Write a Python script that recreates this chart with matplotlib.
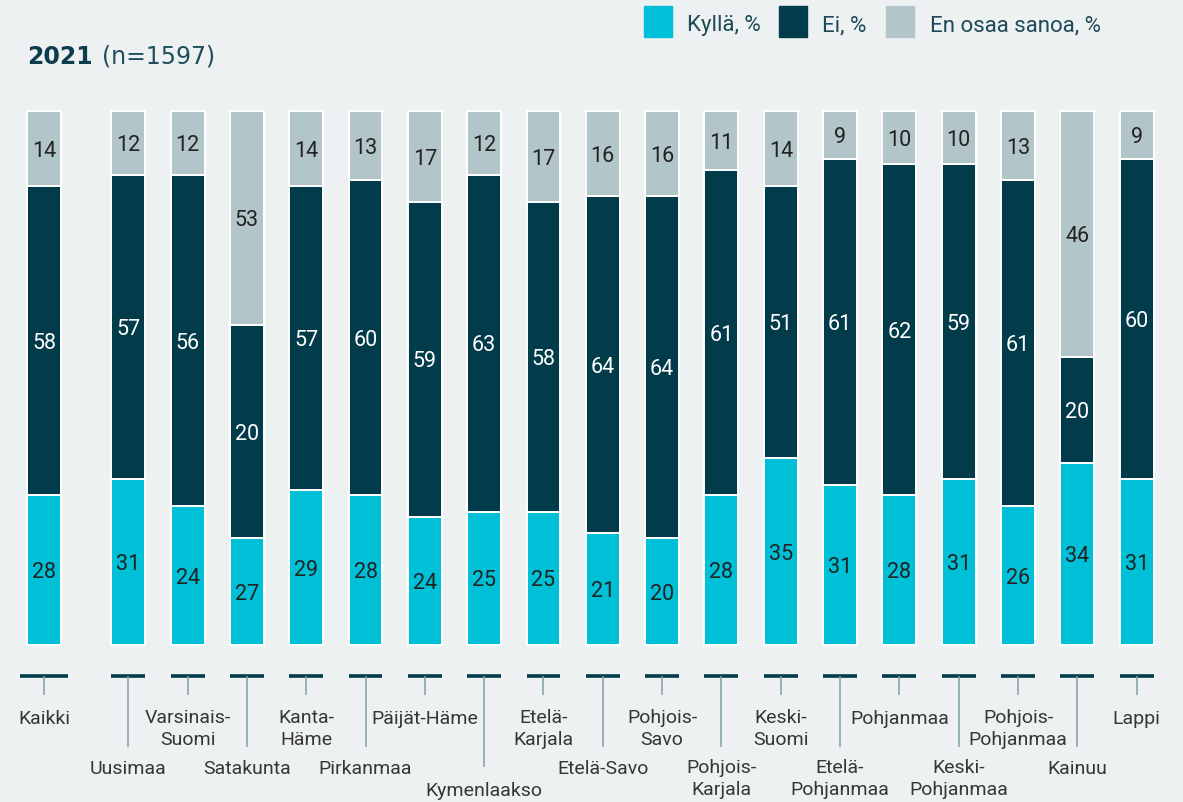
import matplotlib
matplotlib.use('Agg')
import matplotlib.pyplot as plt
from matplotlib import font_manager
from matplotlib.patches import Rectangle

# regions, in the order shown
regions = ['Kaikki', 'Uusimaa', 'Varsinais-\nSuomi', 'Satakunta', 'Kanta-\nHäme',
           'Pirkanmaa', 'Päijät-Häme', 'Kymenlaakso', 'Etelä-\nKarjala', 'Etelä-Savo',
           'Pohjois-\nSavo', 'Pohjois-\nKarjala', 'Keski-\nSuomi', 'Etelä-\nPohjanmaa',
           'Pohjanmaa', 'Keski-\nPohjanmaa', 'Pohjois-\nPohjanmaa', 'Kainuu', 'Lappi']

# printed values, %
kylla = [28, 31, 24, 27, 29, 28, 24, 25, 25, 21, 20, 28, 35, 31, 28, 31, 26, 34, 31]
ei = [58, 57, 56, 20, 57, 60, 59, 63, 58, 64, 64, 61, 51, 61, 62, 59, 61, 20, 60]
eos = [14, 12, 12, 53, 14, 13, 17, 12, 17, 16, 16, 11, 14, 9, 10, 10, 13, 46, 9]

# segment sizes as drawn in the original (a couple differ from the printed values)
kylla_drawn = [28, 31, 26, 20, 29, 28, 24, 25, 25, 21, 20, 28, 35, 30, 28, 31, 26, 34, 31]
ei_drawn = [58, 57, 62, 40, 57, 59, 59, 63, 58, 63, 64, 61, 51, 61, 62, 59, 61, 20, 60]
eos_drawn = [14, 12, 12, 40, 14, 13, 17, 12, 17, 16, 16, 11, 14, 9, 10, 10, 13, 46, 9]

# which row the category label sits on (0 = top, 1 = lower, 2 = lowest)
label_row = [0, 1, 0, 1, 0, 1, 0, 2, 0, 1, 0, 1, 0, 1, 0, 1, 0, 1, 0]

legend_labels = ['Kyllä, %', 'Ei, %', 'En osaa sanoa, %']

c_yes = '#00C0D7'
c_no = '#023B4A'
c_eos = '#B2C6CA'
bg = '#EDF1F2'

names = {f.name for f in font_manager.fontManager.ttflist}
font = 'Liberation Sans Narrow' if 'Liberation Sans Narrow' in names else 'Roboto'

W, H = 1183, 802
fig = plt.figure(figsize=(W / 100, H / 100), dpi=100)
fig.patch.set_facecolor(bg)
ax = fig.add_axes([0, 0, 1, 1])
ax.set_facecolor(bg)
ax.axis('off')

# pixel scale: 59.32 px per slot, 5.34 px per percent
ax.set_xlim(-44 / 59.32, (W - 44) / 59.32)
ax.set_ylim(-(H - 645) / 5.34, 645 / 5.34)

x = [0] + [1.42 + i for i in range(len(regions) - 1)]
w = 0.572

bot2 = [a + b for a, b in zip(kylla_drawn, ei_drawn)]
ax.bar(x, kylla_drawn, width=w, color=c_yes, edgecolor='white', linewidth=1.4)
ax.bar(x, ei_drawn, width=w, bottom=kylla_drawn, color=c_no, edgecolor='white', linewidth=1.4)
ax.bar(x, eos_drawn, width=w, bottom=bot2, color=c_eos, edgecolor='white', linewidth=1.4)

for i in range(len(regions)):
    segs = [(0, kylla_drawn[i], kylla[i], '#222222'),
            (kylla_drawn[i], ei_drawn[i], ei[i], 'white'),
            (bot2[i], eos_drawn[i], eos[i], '#222222')]
    for b, h, v, col in segs:
        ax.text(x[i], b + h / 2 - 0.5, str(v), ha='center', va='center',
                fontsize=15.5, color=col, family=font)

# category markers below the bars
tick_end = {0: -9.4, 1: -19.1, 2: -22.9}
base_y = {0: -14.8, 1: -24.2, 2: -28.3}
line_step = 21 / 5.34
for i, name in enumerate(regions):
    half = 0.405 if i == 0 else w / 2
    ax.hlines(-5.8, x[i] - half, x[i] + half, color=c_no, linewidth=2.6)
    ax.vlines(x[i], tick_end[label_row[i]], -5.8, color='#7FA0AA', linewidth=1.1)
    # baseline is the last line's, so push multi-line labels down
    y = base_y[label_row[i]] - name.count('\n') * line_step
    ax.text(x[i], y, name, ha='center', va='baseline',
            multialignment='center', fontsize=14, color='#363636', family=font,
            linespacing=1.28)

# title
fig.text(27 / W, 1 - 63.5 / H, '2021', fontsize=17, fontweight='bold',
         color='#0B3D4C', family='DejaVu Sans', va='baseline')
fig.text(102 / W, 1 - 63.5 / H, '(n=1597)', fontsize=17,
         color='#1F4E5C', family='DejaVu Sans', va='baseline')

# legend
sq_x = [644, 779, 886]
txt_x = [687, 822, 930]
for sx, tx, lab, col in zip(sq_x, txt_x, legend_labels, [c_yes, c_no, c_eos]):
    fig.add_artist(Rectangle((sx / W, 1 - 37 / H), 28 / W, 31 / H,
                             transform=fig.transFigure, color=col))
    fig.text(tx / W, 1 - 31.5 / H, lab, fontsize=16, color='#1E4A57',
             family=font, va='baseline')

fig.savefig('out.png', dpi=100, facecolor=bg)
